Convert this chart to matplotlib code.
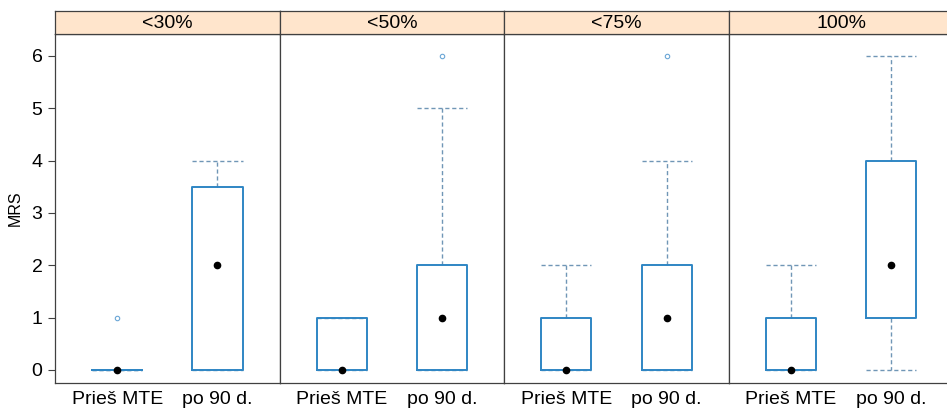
import matplotlib
matplotlib.use("Agg")
import matplotlib.pyplot as plt

plt.rcParams['font.family'] = ['Liberation Sans', 'DejaVu Sans']

panels = ["<30%", "<50%", "<75%", "100%"]
groups = ["Prieš MTE", "po 90 d."]

# per panel: [Prieš MTE, po 90 d.]
q1 = [[0, 0], [0, 0], [0, 0], [0, 1]]
med = [[0, 2], [0, 1], [0, 1], [0, 2]]
q3 = [[0, 3.5], [1, 2], [1, 2], [1, 4]]
whislo = [[0, 0], [0, 0], [0, 0], [0, 0]]
whishi = [[0, 4], [1, 5], [2, 4], [2, 6]]
fliers = [[[1], []], [[], [6]], [[], [6]], [[], []]]

yticks = [0, 1, 2, 3, 4, 5, 6]
ylabel = "MRS"

W, H = 947, 416
fig = plt.figure(figsize=(W / 100, H / 100), dpi=100)

left_px, pw_px = 55, 224.6
top_px, bot_px, strip_top_px = 34, 383, 11

box_col = "#2f86c4"
whisk_col = "#7096b6"
flier_col = "#6aa6d6"
frame_col = "#404040"
fs = 14

for i, name in enumerate(panels):
    x0 = (left_px + i * pw_px) / W
    ax = fig.add_axes([x0, 1 - bot_px / H, pw_px / W, (bot_px - top_px) / H])
    stats = []
    for j in range(2):
        stats.append(dict(med=med[i][j], q1=q1[i][j], q3=q3[i][j],
                          whislo=whislo[i][j], whishi=whishi[i][j],
                          fliers=fliers[i][j], label=groups[j]))
    ax.bxp(stats, positions=[1, 2], widths=0.5, showfliers=True,
           boxprops=dict(color=box_col, linewidth=1.4, zorder=3),
           whiskerprops=dict(color=whisk_col, linewidth=1.0, linestyle=(0, (3, 2)), zorder=2),
           capprops=dict(color=whisk_col, linewidth=1.0, linestyle=(0, (3, 2)), zorder=2),
           medianprops=dict(linestyle="none"),
           flierprops=dict(marker="o", markersize=3.2, markerfacecolor="none",
                           markeredgecolor=flier_col, markeredgewidth=0.8),
           capwidths=0.5)
    ax.plot([1, 2], med[i], "o", color="black", markersize=4.5, zorder=5, linestyle="none")
    ax.set_xlim(0.38, 2.62)
    ax.set_ylim(-0.25, 6.42)
    ax.set_xticks([1, 2])
    ax.set_xticklabels(groups, fontsize=fs)
    ax.tick_params(axis="x", length=0, pad=6)
    for sp in ax.spines.values():
        sp.set_color(frame_col)
        sp.set_linewidth(0.9)
    if i == 0:
        ax.set_yticks(yticks)
        ax.set_yticklabels([str(v) for v in yticks], fontsize=fs)
        ax.tick_params(axis="y", length=5, width=0.8, color=frame_col, pad=4)
        ax.set_ylabel(ylabel, fontsize=11.5, labelpad=6)
    else:
        ax.set_yticks([])
    # strip
    sax = fig.add_axes([x0, 1 - top_px / H, pw_px / W, (top_px - strip_top_px) / H])
    sax.set_facecolor("#ffe5cc")
    sax.set_xticks([])
    sax.set_yticks([])
    for sp in sax.spines.values():
        sp.set_color(frame_col)
        sp.set_linewidth(0.9)
    sax.text(0.5, 0.45, name, ha="center", va="center", fontsize=fs,
             transform=sax.transAxes)

fig.savefig("out.png", dpi=100)
